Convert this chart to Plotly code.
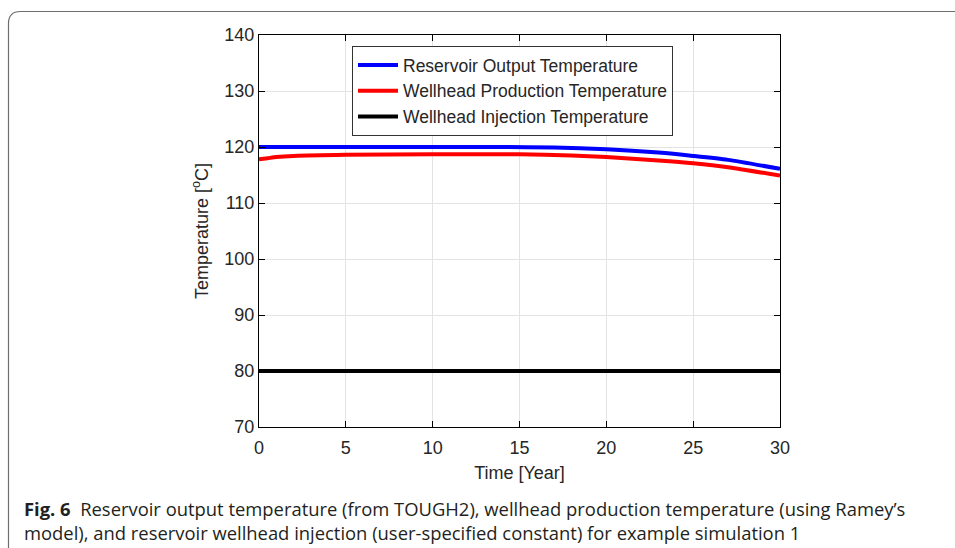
import plotly.graph_objects as go

# Data
t_res = [0, 2, 5, 10, 14, 17, 20, 23, 25, 27, 30]
T_res = [120.0, 120.0, 120.0, 120.0, 120.0, 119.9, 119.6, 119.0, 118.4, 117.7, 116.1]

t_prod = [0, 0.5, 1, 2, 5, 10, 15, 18, 20, 23, 25, 27, 30]
T_prod = [117.8, 118.0, 118.2, 118.4, 118.6, 118.7, 118.7, 118.5, 118.2, 117.6, 117.1, 116.4, 114.9]

t_inj = [0, 30]
T_inj = [80, 80]

names = ["Reservoir Output Temperature", "Wellhead Production Temperature",
         "Wellhead Injection Temperature"]
colors = ["#0000ff", "#ff0000", "#000000"]

x_ticks = [0, 5, 10, 15, 20, 25, 30]
y_ticks = [70, 80, 90, 100, 110, 120, 130, 140]

W, H = 955, 548
L, R, T, B = 259, 780, 35, 427

def px(x):
    return (x - L) / (R - L)

def py(y):
    return (B - y) / (B - T)

FONT = "Liberation Sans, Arial, Helvetica"
TXT = "#262626"

fig = go.Figure()
for xs, ys, nm, c in zip([t_res, t_prod, t_inj], [T_res, T_prod, T_inj], names, colors):
    fig.add_trace(go.Scatter(x=xs, y=ys, mode="lines", name=nm,
                             line=dict(color=c, width=4, shape="spline", smoothing=0.6)))

axis_common = dict(showline=True, linecolor="black", linewidth=1, mirror="ticks",
                   ticks="inside", ticklen=6, tickcolor="black",
                   showgrid=True, gridcolor="#e3e3e3", gridwidth=1, zeroline=False,
                   tickfont=dict(family=FONT, size=18, color=TXT))

fig.update_layout(
    width=W, height=H,
    margin=dict(l=L, r=W - R, t=T, b=H - B),
    paper_bgcolor="white", plot_bgcolor="white",
    showlegend=True,
    legend=dict(x=px(352), y=py(46), xanchor="left", yanchor="top",
                bgcolor="white", bordercolor="#333333", borderwidth=1,
                font=dict(family=FONT, size=17.5, color=TXT),
                tracegroupgap=0, itemwidth=40),
    xaxis=dict(range=[0, 30], tickvals=x_ticks, ticklabelstandoff=4,
               title=dict(text="Time [Year]", standoff=9,
                          font=dict(family=FONT, size=18, color=TXT)),
               **axis_common),
    yaxis=dict(range=[70, 140], tickvals=y_ticks,
               title=dict(text="Temperature [<sup>o</sup>C]", standoff=11,
                          font=dict(family=FONT, size=18, color=TXT)),
               **axis_common),
)

# outer rounded frame
x0, y0, r = 8.5, 11.5, 12
path = (f"M {px(x0)},{py(548)} L {px(x0)},{py(y0 + r)} "
        f"Q {px(x0)},{py(y0)} {px(x0 + r)},{py(y0)} L {px(955)},{py(y0)}")
fig.add_shape(type="path", path=path, xref="paper", yref="paper",
              line=dict(color="#6e6e6e", width=1.2))

cap_font = dict(family="Open Sans", size=18.4, color="#231f20")
fig.add_annotation(x=px(22), y=py(508), xref="paper", yref="paper",
                   xanchor="left", yanchor="middle", showarrow=False, align="left",
                   text="<b>Fig. 6</b>  Reservoir output temperature (from TOUGH2), wellhead production temperature (using Ramey\u2019s",
                   font=cap_font)
fig.add_annotation(x=px(22), y=py(532), xref="paper", yref="paper",
                   xanchor="left", yanchor="middle", showarrow=False, align="left",
                   text="model), and reservoir wellhead injection (user-specified constant) for example simulation 1",
                   font=cap_font)

fig.write_html("out.html", config={"displayModeBar": False},
               post_script="document.body.style.margin='0px';")
